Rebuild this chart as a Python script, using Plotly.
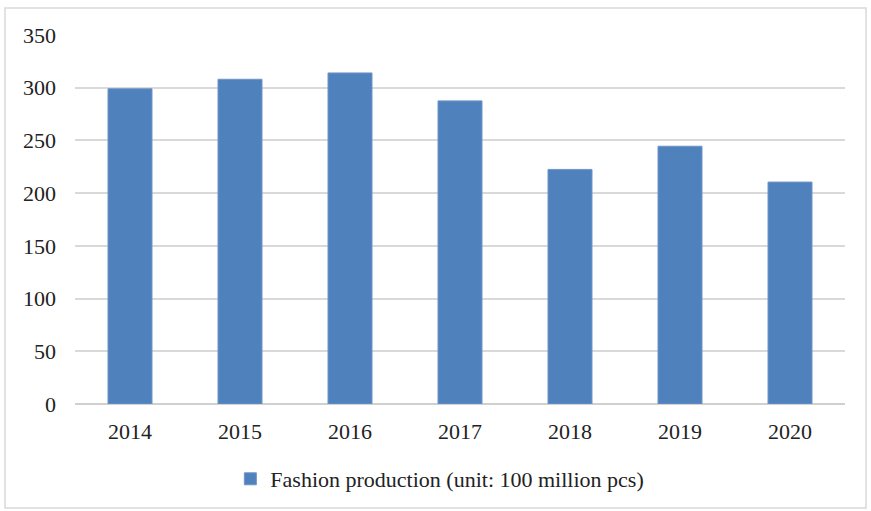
import plotly.graph_objects as go

years = ["2014", "2015", "2016", "2017", "2018", "2019", "2020"]
production = [299, 308, 314, 287.5, 222.5, 244.5, 210.5]
series_name = "Fashion production (unit: 100 million pcs)"
y_ticks = [0, 50, 100, 150, 200, 250, 300, 350]

W, H = 871, 511
ML, MR, MT, MB = 75, 26, 35, 107
font = dict(family="Liberation Serif, Times New Roman, serif", size=22, color="#222222")

fig = go.Figure()
fig.add_trace(go.Bar(
    x=years, y=production, name=series_name,
    marker=dict(color="#4f81bd", line=dict(color="#6f95c8", width=1)),
    showlegend=True,
))

pw = W - ML - MR
ph = H - MT - MB
# outer chart border (decoration)
fig.add_shape(type="rect", xref="paper", yref="paper",
              x0=(5 - ML) / pw, x1=(866 - ML) / pw,
              y0=(H - MB - 508) / ph, y1=(H - MB - 8) / ph,
              line=dict(color="#d9d9d9", width=1.5), fillcolor="rgba(0,0,0,0)",
              layer="below")

fig.update_layout(
    width=W, height=H,
    margin=dict(l=ML, r=MR, t=MT, b=MB, autoexpand=False),
    paper_bgcolor="white", plot_bgcolor="white",
    font=font,
    bargap=0.6,
    showlegend=True,
    legend=dict(orientation="h", x=0.505, xanchor="center", xref="container",
                y=(H - 479) / H, yanchor="middle", yref="container",
                font=font, itemwidth=30, traceorder="normal"),
    xaxis=dict(showgrid=False, showline=False, ticks="", tickfont=font,
               ticklabelstandoff=12, automargin=False),
    yaxis=dict(range=[0, 350], tickvals=y_ticks, showgrid=True,
               gridcolor="#d9d9d9", gridwidth=1.5, zeroline=True,
               zerolinecolor="#d0d0d0", zerolinewidth=2, showline=False,
               ticks="", tickfont=font, ticklabelstandoff=18, automargin=False),
)

fig.write_html("out.html",
               config={"displayModeBar": False},
               post_script="document.body.style.margin='0px';document.body.style.overflow='hidden';")
